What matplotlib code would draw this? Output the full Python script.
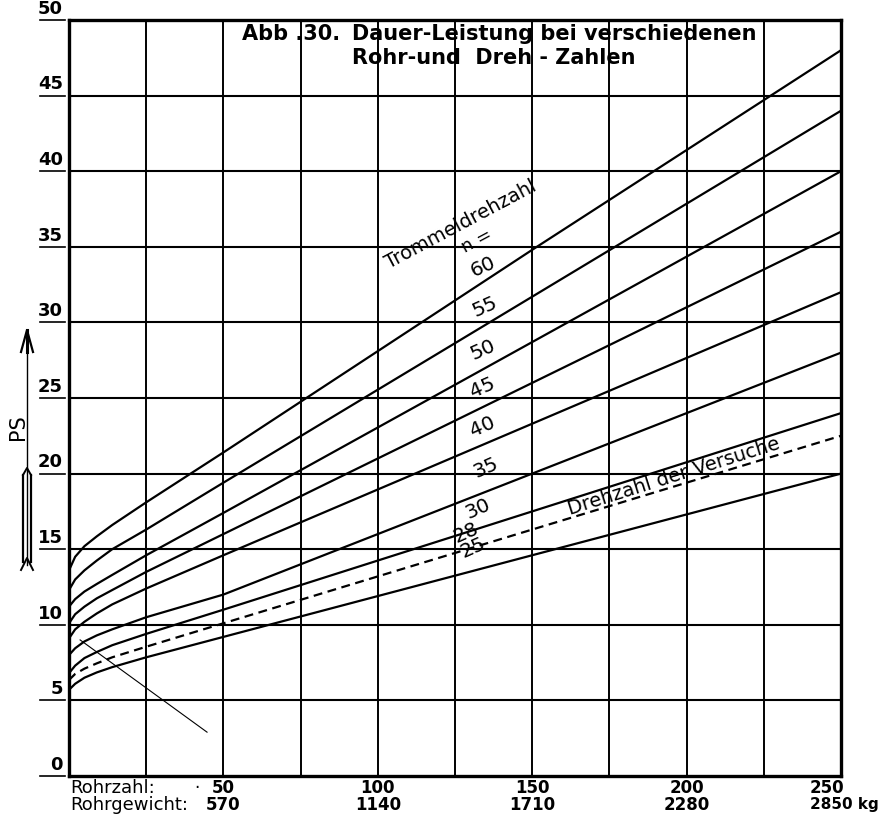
import matplotlib
matplotlib.use("Agg")
import matplotlib.pyplot as plt
from matplotlib.lines import Line2D

# Rohrzahl (number of tubes) at which each curve was read
rohrzahl = [0, 2, 5, 9, 14, 25, 50, 100, 150, 200, 250]

# Dauer-Leistung in PS for each Trommeldrehzahl n
ps_n60 = [13.6, 14.5, 15.2, 15.85, 16.6, 18.1, 21.4, 28.1, 34.8, 41.4, 48.0]
ps_n55 = [12.3, 13.0, 13.6, 14.25, 15.0, 16.3, 19.4, 25.55, 31.7, 37.85, 44.0]
ps_n50 = [11.2, 11.7, 12.2, 12.7, 13.3, 14.6, 17.4, 23.05, 28.7, 34.35, 40.0]
ps_n45 = [10.1, 10.7, 11.2, 11.75, 12.3, 13.5, 16.0, 21.0, 26.0, 31.0, 36.0]
ps_n40 = [9.1, 9.7, 10.2, 10.75, 11.35, 12.4, 14.6, 18.95, 23.3, 27.65, 32.0]
ps_n35 = [8.0, 8.45, 8.9, 9.3, 9.7, 10.5, 12.0, 16.0, 20.0, 24.0, 28.0]
ps_n30 = [6.8, 7.3, 7.8, 8.2, 8.65, 9.4, 11.0, 14.25, 17.5, 20.75, 24.0]
ps_n28 = [6.35, 6.75, 7.1, 7.45, 7.85, 8.55, 10.1, 13.2, 16.3, 19.4, 22.5]
ps_n25 = [5.7, 6.1, 6.5, 6.85, 7.2, 7.85, 9.2, 11.9, 14.6, 17.3, 20.0]

drehzahlen = ["60", "55", "50", "45", "40", "35", "30", "28", "25"]
kurven = [ps_n60, ps_n55, ps_n50, ps_n45, ps_n40, ps_n35, ps_n30, ps_n28, ps_n25]
# n = 28 is the speed used in the tests (dashed)
versuchs_drehzahl = "28"

# curve labels: (x, y)
label_pos = {
    "60": (134, 33.7), "55": (134.7, 31.0), "50": (134, 28.2),
    "45": (134, 25.7), "40": (134, 23.1), "35": (135, 20.4),
    "30": (132.4, 17.7), "28": (128.6, 16.1), "25": (130.8, 15.1),
}

# thin auxiliary line in the lower left
hilfslinie_x = [3.6, 44.7]
hilfslinie_y = [9.0, 2.9]

# axis tick values and bottom labels
y_ticks = [0, 5, 10, 15, 20, 25, 30, 35, 40, 45, 50]
x_grid = [0, 25, 50, 75, 100, 125, 150, 175, 200, 225, 250]
rohrzahl_labels = ["50", "100", "150", "200", "250"]
rohrgewicht_labels = ["570", "1140", "1710", "2280", "2850 kg"]

W, H = 882, 814
fig = plt.figure(figsize=(W / 100, H / 100), dpi=100)
fig.patch.set_facecolor("white")

ax = fig.add_axes([69 / W, 1 - 776 / H, (841 - 69) / W, (776 - 20) / H])
ax.set_xlim(0, 250)
ax.set_ylim(0, 50)
ax.set_xticks([])
ax.set_yticks([])
for sp in ax.spines.values():
    sp.set_linewidth(2.4)
    sp.set_color("black")

for gx in x_grid[1:-1]:
    ax.axvline(gx, color="black", lw=1.4, zorder=1)
for gy in y_ticks[1:-1]:
    ax.axhline(gy, color="black", lw=1.5, zorder=1)

for name, ys in zip(drehzahlen, kurven):
    ls = (0, (4, 2.5)) if name == versuchs_drehzahl else "-"
    ax.plot(rohrzahl, ys, color="black", lw=1.6, ls=ls, zorder=3,
            solid_capstyle="butt")

ax.plot(hilfslinie_x, hilfslinie_y, color="black", lw=0.8, zorder=3)

num_font = ["DejaVu Sans"]
for name in drehzahlen:
    x, y = label_pos[name]
    ax.text(x, y, name, fontsize=14.5, rotation=24, ha="center",
            va="center", family=num_font, zorder=4)

ax.text(127, 36.5, "Trommeldrehzahl", fontsize=14, rotation=28,
        ha="center", va="center", family=num_font, zorder=4)
ax.text(132, 35.4, "n =", fontsize=13, rotation=28, ha="center",
        va="center", family=num_font, zorder=4)
ax.text(196, 19.8, "Drehzahl der Versuche", fontsize=14, rotation=17.5,
        ha="center", va="center", family=num_font, zorder=4)

# title
title_font = ["DejaVu Sans"]
ax.text(56.0, 49.1, "Abb .30.", fontsize=15, fontweight="bold",
        ha="left", va="center", family=title_font, zorder=4)
ax.text(91.8, 49.1, "Dauer-Leistung bei verschiedenen", fontsize=15,
        fontweight="bold", ha="left", va="center", family=title_font,
        zorder=4)
ax.text(91.8, 47.5, "Rohr-und  Dreh - Zahlen", fontsize=15,
        fontweight="bold", ha="left", va="center", family=title_font,
        zorder=4)

# y tick labels, underlined
tick_font = ["Liberation Sans Narrow", "DejaVu Sans"]
for v in y_ticks:
    ax.text(-2.0, v + 0.15, str(v), fontsize=13, fontweight="bold",
            ha="right", va="bottom", family=tick_font, clip_on=False)
    ax.add_line(Line2D([-9.3, -1.2], [v, v], color="black", lw=1.2,
                       clip_on=False))

# bottom labels
fy1 = 1 - 788 / H
fy2 = 1 - 805 / H
fig.text(70 / W, fy1, "Rohrzahl:", fontsize=13, ha="left", va="center",
         family=tick_font)
fig.text(70 / W, fy2, "Rohrgewicht:", fontsize=13, ha="left", va="center",
         family=tick_font)
fig.text(197 / W, fy1, "·", fontsize=12, ha="center", va="center")
label_x = [50, 100, 150, 200]
for xv, r, g in zip(label_x, rohrzahl_labels[:-1], rohrgewicht_labels[:-1]):
    px = ax.transData.transform((xv, 0))[0] / W
    fig.text(px, fy1, r, fontsize=12, fontweight="bold", ha="center",
             va="center", family=tick_font)
    fig.text(px, fy2, g, fontsize=12, fontweight="bold", ha="center",
             va="center", family=tick_font)
fig.text(827 / W, fy1, rohrzahl_labels[-1], fontsize=12, fontweight="bold",
         ha="center", va="center", family=tick_font)
fig.text(879 / W, fy2, rohrgewicht_labels[-1], fontsize=11, fontweight="bold",
         ha="right", va="center", family=tick_font)

# PS arrow on the left
fx = 27 / W
fig.add_artist(Line2D([fx, fx], [1 - 565 / H, 1 - 330 / H], color="black",
                      lw=1.0))
fig.add_artist(Line2D([21 / W, fx, 33 / W],
                      [1 - 352 / H, 1 - 330 / H, 1 - 352 / H],
                      color="black", lw=1.6))
fig.add_artist(Line2D([fx, fx], [1 - 330 / H, 1 - 352 / H], color="black",
                      lw=2.2))
for dx in (-4, 4):
    fig.add_artist(Line2D([(27 + dx) / W, (27 + dx) / W],
                          [1 - 562 / H, 1 - 475 / H], color="black", lw=1.6))
fig.add_artist(Line2D([23 / W, fx, 31 / W],
                      [1 - 475 / H, 1 - 468 / H, 1 - 475 / H],
                      color="black", lw=1.4))
fig.add_artist(Line2D([21 / W, fx, 33 / W],
                      [1 - 570 / H, 1 - 558 / H, 1 - 570 / H],
                      color="black", lw=1.4))
fig.text(18 / W, 1 - 427 / H, "PS", fontsize=15, rotation=90, ha="center",
         va="center", family=num_font)

fig.savefig("out.png", dpi=100, facecolor="white")
